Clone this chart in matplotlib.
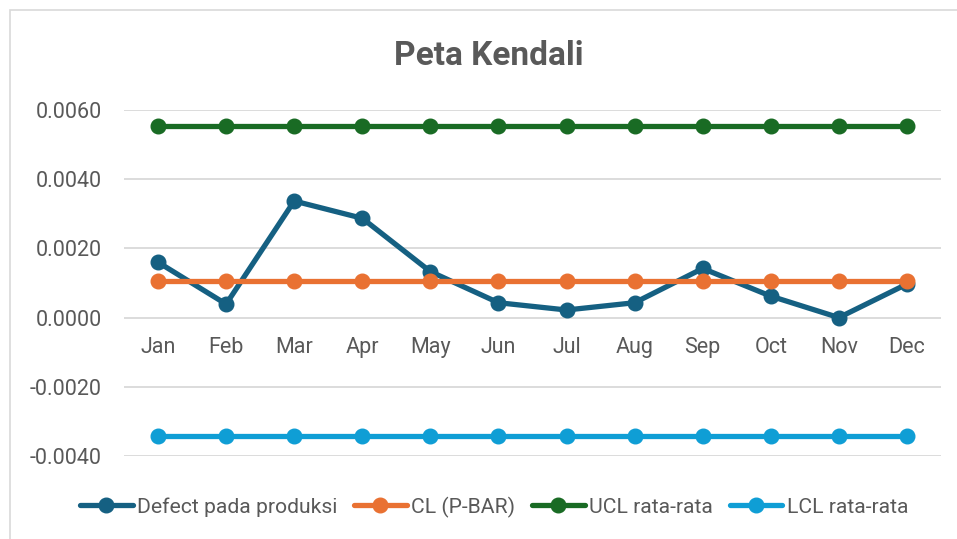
import matplotlib
matplotlib.use("Agg")
import matplotlib.pyplot as plt
from matplotlib.patches import Rectangle

months = ["Jan", "Feb", "Mar", "Apr", "May", "Jun", "Jul", "Aug", "Sep", "Oct", "Nov", "Dec"]
defect = [0.00160, 0.00039, 0.00337, 0.00287, 0.00133, 0.00043, 0.00022, 0.00043, 0.00142, 0.00062, 0.00000, 0.00097]
cl = [0.00106] * 12
ucl = [0.00555] * 12
lcl = [-0.00343] * 12
yticks = [-0.004, -0.002, 0.0, 0.002, 0.004, 0.006]

plt.rcParams['font.family'] = ['Roboto', 'DejaVu Sans']
txt = '#595959'

fig = plt.figure(figsize=(9.57, 5.39), dpi=100)
fig.patches.append(Rectangle((10/957, -0.1), 1.2, 1 + 0.1 - 10/539, transform=fig.transFigure,
                             fill=False, edgecolor='#D9D9D9', linewidth=1.2))
ax = fig.add_axes([124/957, 1 - 456/539, (941 - 124)/957, (456 - 110)/539])

x = list(range(len(months)))
series = [
    (defect, '#156082', 'Defect pada produksi'),
    (cl, '#E97132', 'CL (P-BAR)'),
    (ucl, '#196B24', 'UCL rata-rata'),
    (lcl, '#0F9ED5', 'LCL rata-rata'),
]
for vals, col, lab in series:
    ax.plot(x, vals, color=col, lw=3.8, marker='o', ms=10.5, label=lab, solid_capstyle='round', zorder=3)

ax.set_xlim(-0.5, 11.5)
ax.set_ylim(-0.004, 0.006)
ax.set_yticks(yticks)
ax.set_yticklabels([f"{v:.4f}" for v in yticks], color=txt, fontsize=15.5)
ax.tick_params(axis='y', length=0, pad=16)
ax.set_xticks([])
ax.grid(axis='y', color='#D9D9D9', lw=1.3, zorder=0)
for s in ax.spines.values():
    s.set_visible(False)

for i, m in enumerate(months):
    ax.annotate(m, xy=(i, 0), xytext=(0, -21.5), textcoords='offset points',
                ha='center', va='center', color=txt, fontsize=15.5)

fig.text(489/957, 1 - 56/539, "Peta Kendali", ha='center', va='center', fontsize=24,
         fontweight='bold', color=txt)

leg = fig.legend(loc='center', bbox_to_anchor=(494/957, 1 - 507/539), ncol=4, frameon=False,
                 fontsize=15.2, handlelength=2.5, handletextpad=0.2, columnspacing=0.8)
for t in leg.get_texts():
    t.set_color(txt)

fig.savefig("out.png", dpi=100)
